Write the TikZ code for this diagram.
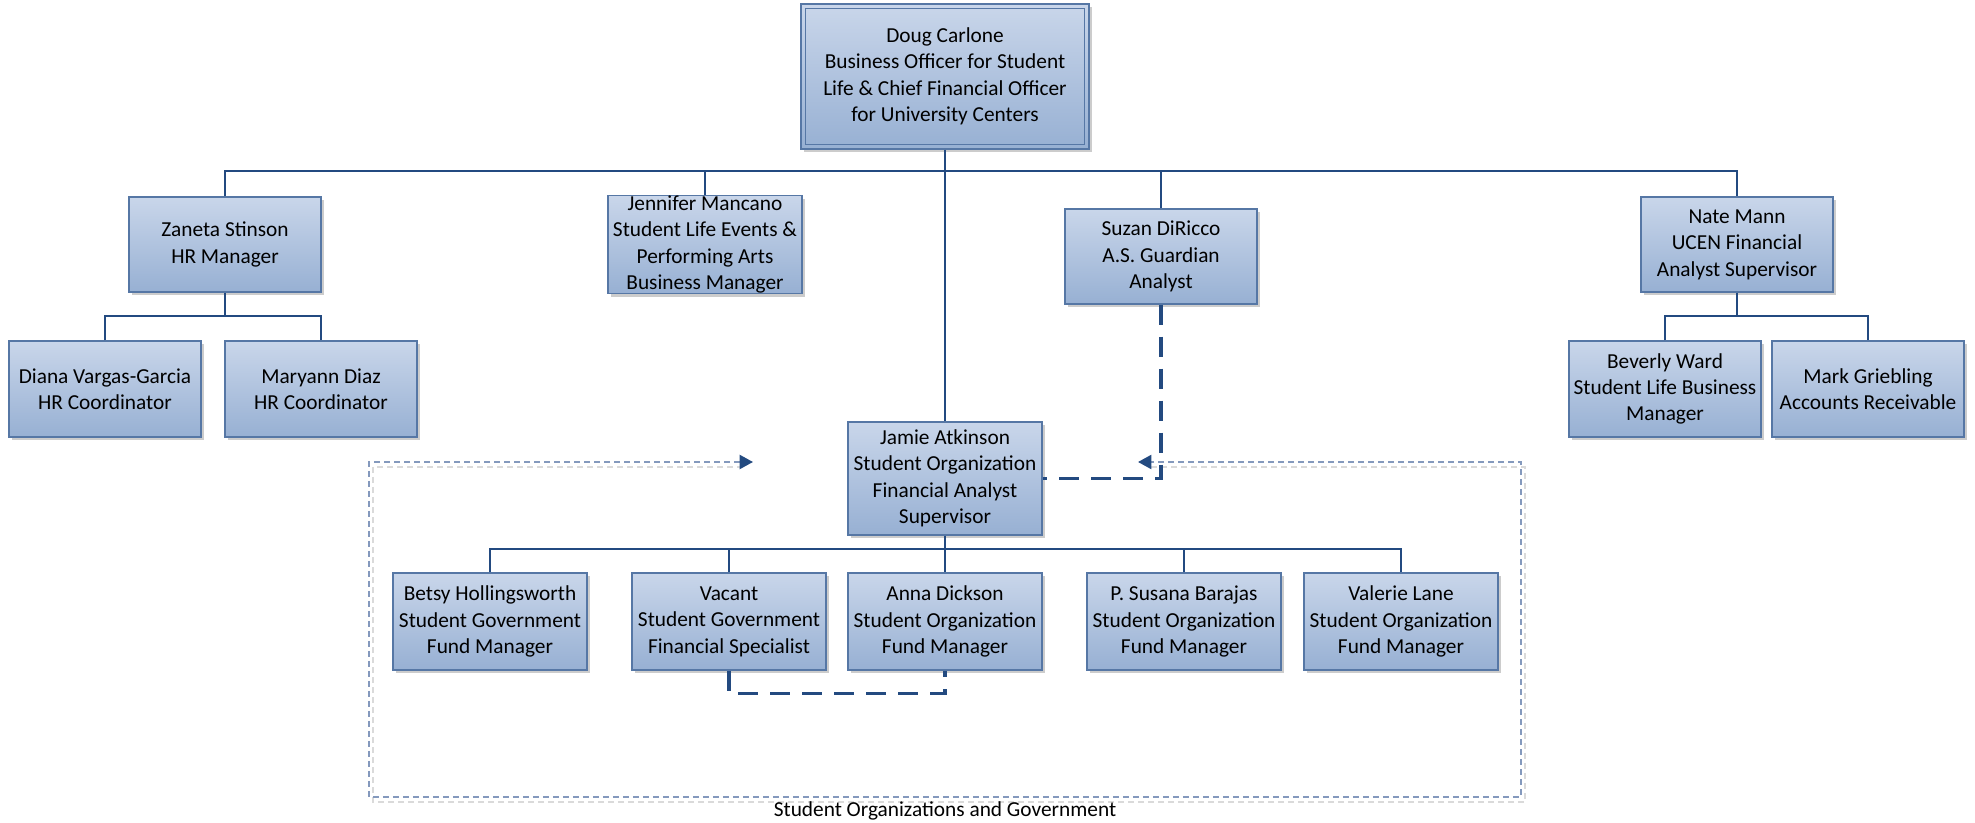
\documentclass[tikz,border=0pt]{standalone}
\usepackage{fontspec}
\setmainfont{Carlito}
\usetikzlibrary{shadows,arrows.meta,calc}
\definecolor{boxtop}{HTML}{C9D6EA}
\definecolor{boxbot}{HTML}{97B0D3}
\definecolor{boxdraw}{HTML}{5677A5}
\definecolor{conncol}{HTML}{234A80}
\definecolor{framecol}{HTML}{8499BD}
\definecolor{shadecol}{HTML}{DADADA}
\tikzset{
  obox/.style={draw=boxdraw, line width=1pt, top color=boxtop, bottom color=boxbot,
    drop shadow={shadow xshift=2.5pt, shadow yshift=-2.5pt, opacity=0.4},
    align=center, inner sep=0pt, text=black,
    font=\fontsize{16}{19.8}\selectfont},
  wh/.style 2 args={minimum width=#1*0.75pt, minimum height=#2*0.75pt},
  conn/.style={draw=conncol, line width=2.2pt},
  dconn/.style={draw=conncol, line width=2.3pt, dash pattern=on 15pt off 9pt},
  framestyle/.style={draw=framecol, line width=1.6pt, dash pattern=on 4.5pt off 3pt},
  frameshadow/.style={draw=shadecol, line width=2.2pt, dash pattern=on 4.5pt off 3pt}
}
\begin{document}
\begin{tikzpicture}[x=0.75pt, y=-0.75pt]
\useasboundingbox (0,0) rectangle (1975,823);

% group frame (drawn first, behind boxes)
\coordinate (ga) at (753,462);
\coordinate (gb) at (1138,462);
\coordinate (gtl) at (369,462);
\coordinate (gbl) at (369,797);
\coordinate (gbr) at (1521,797);
\coordinate (gtr) at (1521,462);
\draw[frameshadow] ($(ga)+(-10,5)$) -- ($(gtl)+(4,5)$) -- ($(gbl)+(4,5)$) -- ($(gbr)+(4,5)$) -- ($(gtr)+(4,5)$) -- ($(gb)+(12,5)$);
\draw[framestyle, {Triangle[fill=conncol,color=conncol,length=10pt,width=10.5pt]}-{Triangle[fill=conncol,color=conncol,length=10pt,width=10.5pt]}] (ga) -- (gtl) -- (gbl) -- (gbr) -- (gtr) -- (gb);
\node[font=\fontsize{16}{19.8}\selectfont] (glabel) at (945,811) {Student Organizations and Government};

% boxes
\node[obox, wh={288}{145}] (top) at (945,76.5) {Doug Carlone\\Business Officer for Student\\Life \& Chief Financial Officer\\for University Centers};
\draw[boxdraw, line width=1pt] ([shift={(5,5)}]top.north west) rectangle ([shift={(-5,-5)}]top.south east);

\node[obox, wh={192}{95}] (zaneta) at (225,244.5) {Zaneta Stinson\\HR Manager};
\node[obox, wh={194}{95}] (jen) at (705,244.5) {Jennifer Mancano\\Student Life Events \&\\Performing Arts\\Business Manager};
\node[obox, wh={192}{95}] (suzan) at (1161,256.5) {Suzan DiRicco\\A.S. Guardian\\Analyst};
\node[obox, wh={192}{95}] (nate) at (1737,244.5) {Nate Mann\\UCEN Financial\\Analyst Supervisor};

\node[obox, wh={192}{96}] (diana) at (105,389) {Diana Vargas-Garcia\\HR Coordinator};
\node[obox, wh={192}{96}] (maryann) at (321,389) {Maryann Diaz\\HR Coordinator};
\node[obox, wh={192}{96}] (beverly) at (1665,389) {Beverly Ward\\Student Life Business\\Manager};
\node[obox, wh={192}{96}] (mark) at (1868,389) {Mark Griebling\\Accounts Receivable};

\node[obox, wh={194}{113}] (jamie) at (945,478.5) {Jamie Atkinson\\Student Organization\\Financial Analyst\\Supervisor};

\node[obox, wh={194}{97}] (betsy) at (490,621.5) {Betsy Hollingsworth\\Student Government\\Fund Manager};
\node[obox, wh={194}{97}] (vacant) at (729,621.5) {Vacant\\Student Government\\Financial Specialist};
\node[obox, wh={194}{97}] (anna) at (945,621.5) {Anna Dickson\\Student Organization\\Fund Manager};
\node[obox, wh={194}{97}] (susana) at (1184,621.5) {P. Susana Barajas\\Student Organization\\Fund Manager};
\node[obox, wh={194}{97}] (valerie) at (1401,621.5) {Valerie Lane\\Student Organization\\Fund Manager};

% connectors
\coordinate (bus) at (945,171);
\draw[conn] (top.south) -- (jamie.north);
\draw[conn] (zaneta.north) |- (bus) -| (nate.north);
\draw[conn] (jen.north) -- (jen.north |- bus);
\draw[conn] (suzan.north) -- (suzan.north |- bus);

\coordinate (zbus) at (225,316);
\draw[conn] (zaneta.south) -- (zbus);
\draw[conn] (diana.north) |- (zbus) -| (maryann.north);

\coordinate (nbus) at (1737,316);
\draw[conn] (nate.south) -- (nbus);
\draw[conn] (beverly.north) |- (nbus) -| (mark.north);

\coordinate (jbus) at (945,549);
\draw[conn] (jamie.south) -- (anna.north);
\draw[conn] (betsy.north) |- (jbus) -| (valerie.north);
\draw[conn] (vacant.north) -- (vacant.north |- jbus);
\draw[conn] (susana.north) -- (susana.north |- jbus);

\draw[dconn] (suzan.south) |- (jamie.east);
\draw[dconn] (vacant.south) -- ++(0,23) -| (anna.south);
\end{tikzpicture}
\end{document}
